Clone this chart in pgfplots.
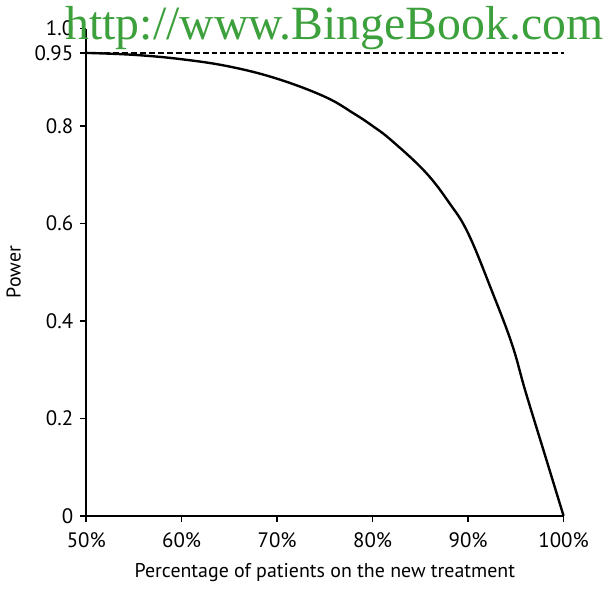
\documentclass[border=0pt]{standalone}
\usepackage{fontspec}
\setmainfont{PT Sans}
\newfontfamily\wmfont{Liberation Serif}
\usepackage{pgfplots}
\pgfplotsset{compat=1.18}
\definecolor{wmgreen}{RGB}{60,160,60}
\begin{document}
\begin{tikzpicture}
\begin{axis}[
    scale only axis,
    width=240pt, height=245pt,
    xmin=50, xmax=100, ymin=0, ymax=1.0,
    axis lines=left,
    axis line style={-, line width=1pt},
    tick align=outside,
    major tick length=3pt,
    tick style={line width=0.8pt, black},
    xtick={50,60,70,80,90,100},
    xticklabels={50\%,60\%,70\%,80\%,90\%,100\%},
    ytick={0,0.2,0.4,0.6,0.8,0.95,1.0},
    yticklabels={0,0.2,0.4,0.6,0.8,0.95,1.0},
    tick label style={font=\fontsize{10.5}{11}\selectfont},
    xticklabel style={yshift=-2pt},
    /pgf/number format/assume math mode=true,
    xlabel={Percentage of patients on the new treatment},
    ylabel={Power},
    label style={font=\fontsize{10}{11}\selectfont},
    xlabel style={yshift=-1pt},
    clip=false,
]
\addplot[black, line width=1.2pt, smooth, tension=0.65] coordinates {
    (50,0.950) (55,0.946) (60,0.937) (65,0.922) (70,0.897)
    (75,0.860) (78,0.826) (80,0.800) (82,0.770) (85.5,0.706)
    (88,0.643) (90,0.580) (92.5,0.461) (94.6,0.352) (96,0.256)
    (98,0.128) (100,0.0)
};
\addplot[black, line width=0.8pt, dash pattern=on 3pt off 1.5pt] coordinates {
    (50,0.95) (100,0.95)
};
\node[font=\wmfont\fontsize{24}{25}\selectfont, text=wmgreen, anchor=base]
    at (rel axis cs:0.52,0.977) {http://www.BingeBook.com};
\end{axis}
\end{tikzpicture}
\end{document}
